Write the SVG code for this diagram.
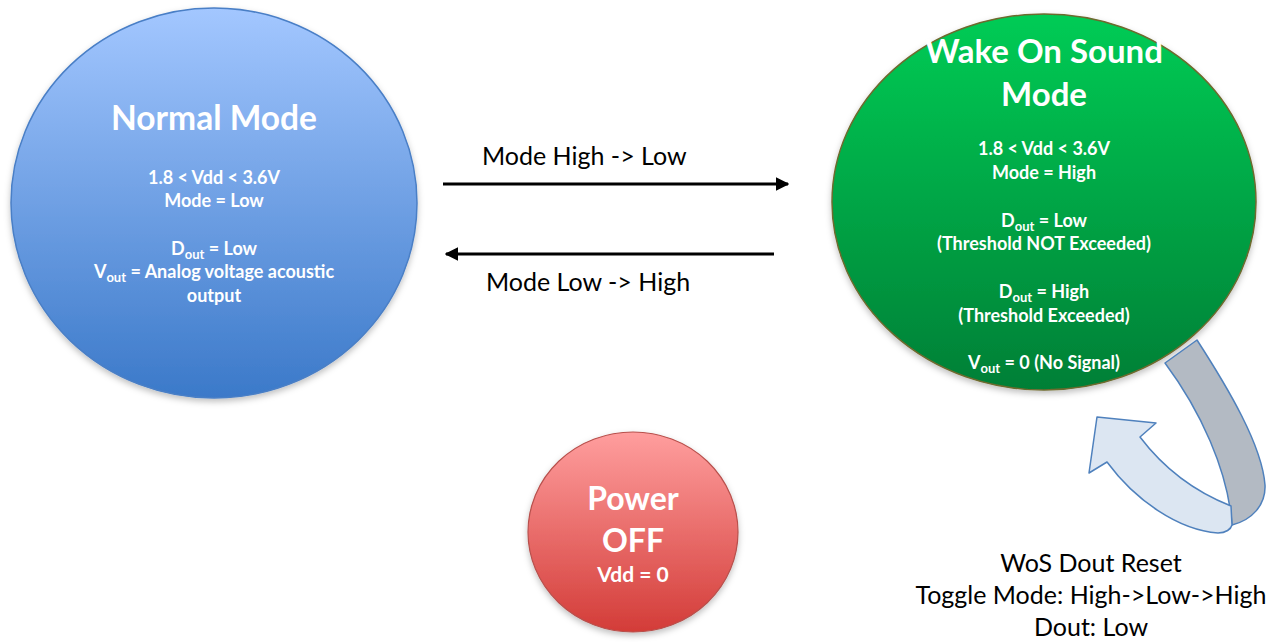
<svg xmlns="http://www.w3.org/2000/svg" width="1276" height="642" viewBox="0 0 1276 642">
  <defs>
    <linearGradient id="gBlue" x1="0" y1="0" x2="0" y2="1">
      <stop offset="0" stop-color="#a3c7ff"/>
      <stop offset="1" stop-color="#3b79c9"/>
    </linearGradient>
    <linearGradient id="gGreen" x1="0" y1="0" x2="0" y2="1">
      <stop offset="0" stop-color="#00cc55"/>
      <stop offset="1" stop-color="#007f36"/>
    </linearGradient>
    <linearGradient id="gRed" x1="0" y1="0" x2="0" y2="1">
      <stop offset="0" stop-color="#ff9e9e"/>
      <stop offset="1" stop-color="#d33c38"/>
    </linearGradient>
    <filter id="shadow" x="-10%" y="-10%" width="120%" height="125%">
      <feDropShadow dx="0" dy="3" stdDeviation="3" flood-color="#000" flood-opacity="0.25"/>
    </filter>
    <marker id="arrow" viewBox="0 0 10 10" refX="9" refY="5" markerWidth="4.5" markerHeight="4.5" orient="auto">
      <path d="M0,0 L10,5 L0,10 z" fill="#000"/>
    </marker>
    <style>
      .title { font-family: Lato, "Open Sans", sans-serif; font-weight: bold; fill: #fff; text-anchor: middle; }
      .body { font-family: Lato, "Open Sans", sans-serif; font-weight: bold; font-size: 18px; fill: #fff; text-anchor: middle; }
      .label { font-family: Lato, "Open Sans", sans-serif; font-size: 25px; fill: #000; }
      .sub { font-size: 13px; }
      .conn { stroke: #000; stroke-width: 3; fill: none; marker-end: url(#arrow); }
    </style>
  </defs>

  <rect width="1276" height="642" fill="#fff"/>

  <!-- Normal mode state -->
  <g id="normal-mode">
    <ellipse cx="214" cy="203" rx="203" ry="195" fill="url(#gBlue)" stroke="#4a7fc6" stroke-width="1.5" filter="url(#shadow)"/>
    <text class="title" x="214" y="130" font-size="33.5">Normal Mode</text>
    <text class="body" x="214" y="184">1.8 &lt; Vdd &lt; 3.6V</text>
    <text class="body" x="214" y="207">Mode = Low</text>
    <text class="body" x="214" y="255">D<tspan class="sub" dy="4">out</tspan><tspan dy="-4"> = Low</tspan></text>
    <text class="body" x="214" y="278">V<tspan class="sub" dy="4">out</tspan><tspan dy="-4"> = Analog voltage acoustic</tspan></text>
    <text class="body" x="214" y="302">output</text>
  </g>

  <!-- Wake on sound state -->
  <g id="wake-on-sound-mode">
    <ellipse cx="1044" cy="202" rx="212" ry="188" fill="url(#gGreen)" stroke="#6e6a2e" stroke-width="1.5" filter="url(#shadow)"/>
    <text class="title" x="1044" y="63" font-size="33">Wake On Sound</text>
    <text class="title" x="1044" y="106" font-size="33">Mode</text>
    <text class="body" x="1044" y="155">1.8 &lt; Vdd &lt; 3.6V</text>
    <text class="body" x="1044" y="179">Mode = High</text>
    <text class="body" x="1044" y="227">D<tspan class="sub" dy="4">out</tspan><tspan dy="-4"> = Low</tspan></text>
    <text class="body" x="1044" y="250">(Threshold NOT Exceeded)</text>
    <text class="body" x="1044" y="298">D<tspan class="sub" dy="4">out</tspan><tspan dy="-4"> = High</tspan></text>
    <text class="body" x="1044" y="322">(Threshold Exceeded)</text>
    <text class="body" x="1044" y="369">V<tspan class="sub" dy="4">out</tspan><tspan dy="-4"> = 0 (No Signal)</tspan></text>
  </g>

  <!-- Power off state -->
  <g id="power-off">
    <ellipse cx="633" cy="532" rx="105" ry="100" fill="url(#gRed)" stroke="#b8504c" stroke-width="1.2" filter="url(#shadow)"/>
    <text class="title" x="633" y="510" font-size="32">Power</text>
    <text class="title" x="633" y="552" font-size="32">OFF</text>
    <text class="body" x="633" y="582" style="font-size:21px">Vdd = 0</text>
  </g>

  <!-- Transitions -->
  <g id="connectors">
    <line class="conn" x1="443" y1="184" x2="788" y2="184"/>
    <line class="conn" x1="774" y1="254" x2="446" y2="254"/>
    <text class="label" x="482" y="165">Mode High -&gt; Low</text>
    <text class="label" x="486" y="291">Mode Low -&gt; High</text>

    <!-- self loop on wake on sound: folded ribbon arrow -->
    <g id="reset-loop" stroke="#4f81bd" stroke-width="1.5" stroke-linejoin="round">
      <path d="M1165,363 L1197,340 C1228,388 1262,445 1265,485 C1266,505 1252,520 1232,525 C1228,470 1200,410 1165,363 Z" fill="#b3bac3"/>
      <path d="M1231,506 C1198,493 1165,470 1140,437 L1156,423 L1097,417 L1089,473 L1107,462 C1135,500 1178,530 1218,533 C1226,533 1231,529 1232,525 Z" fill="#dce6f2"/>
    </g>
    <text class="label" x="1091" y="572" text-anchor="middle">WoS Dout Reset</text>
    <text class="label" x="1091" y="604" text-anchor="middle">Toggle Mode: High-&gt;Low-&gt;High</text>
    <text class="label" x="1091" y="636" text-anchor="middle">Dout: Low</text>
  </g>
</svg>
